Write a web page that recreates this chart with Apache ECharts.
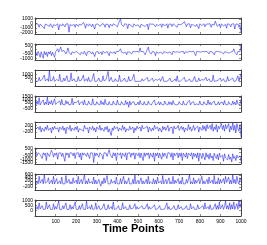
<!DOCTYPE html>
<html><head><meta charset="utf-8">
<script src="https://cdn.jsdelivr.net/npm/echarts@6/dist/echarts.min.js"></script>
<style>html,body{margin:0;padding:0;background:#fff}#c{width:267px;height:245px}</style>
</head><body><div id="c"></div>
<script>
const timeStep = 5;
const xTicks = [100,200,300,400,500,600,700,800,900,1000];
const s1 = [-100,-300,-150,-900,-200,-100,-600,-250,-1200,-150,-100,-400,-200,-700,-100,-150,-1000,-300,-100,-500,
-200,-100,-1500,-250,-150,-600,-100,-300,-800,-150,-200,-100,-2000,-300,-150,-500,-100,-250,-900,-150,
-100,-700,-200,-150,-400,-100,200,-300,-1100,-150,-200,-600,-100,-250,-800,-150,-100,-1300,-200,-400,
-150,-100,-700,-250,-100,-500,-200,-900,-150,-100,-300,-1000,-200,-150,-600,-100,-250,-400,-150,-800,
-100,-200,1100,-300,-150,-700,-100,-500,-200,-1200,-150,-100,-400,-250,-900,-100,-200,-600,-150,-300,
-100,-1000,-200,-150,-500,-100,-700,-250,-150,-1400,-100,-300,-200,-600,-150,-100,-800,-250,-100,-500,
-200,-150,-900,-100,-300,-600,-150,-100,-1100,-200,-400,-150,-700,-100,-250,-500,-150,-900,-200,-100,
-300,-600,-150,-100,400,-200,-800,-150,-500,-100,-1000,-250,-150,-400,-100,-700,-200,-150,-1200,-100,
-250,-500,-150,-100,-800,-200,-300,-150,-600,-100,-900,-200,-150,-400,500,-100,-700,-250,-150,-1000,
-100,-300,-600,-150,-200,-1100,-100,-400,-250,-800,-150,-500,-100,-1300,-200,-600,-150,-900,-300,-2000];
const s2 = [-300,-700,-200,-500,-900,-250,-400,-1000,-200,-600,-300,-800,-250,-500,-200,-700,-300,-400,-900,-250,
-200,100,-300,-250,300,-200,-400,-100,-300,-500,-250,200,-300,-200,-600,-250,-100,-400,-300,-200,
-250,-400,-200,-600,-300,-250,-500,-200,-300,-700,-250,-400,-200,-300,-500,-250,-200,-800,-300,-250,
-200,-500,-300,-250,-600,-200,-300,-400,-250,-200,-300,-700,-250,-200,-400,-300,-250,-500,-200,-300,
-250,-200,100,-300,-250,-400,-200,-300,-600,-250,-200,-300,-250,-500,-200,-300,-250,-400,-200,-250,
-300,200,-250,-400,-200,-300,-600,-250,-200,300,-300,-250,-500,-200,-250,-300,-700,-250,-200,-400,
-250,-300,-200,-500,-250,-200,-300,-250,-400,-200,-250,-300,-600,-200,-250,-300,-200,-250,-400,-300,
-200,-250,-300,-200,-500,-250,-200,-300,-250,-200,-400,-250,-300,-200,-250,-700,-200,-300,-250,-200,
-300,-250,-200,-400,-250,-300,-200,-250,-500,-200,-300,-250,-200,-600,-250,-300,-200,-400,-250,-200,
-300,-200,-500,-250,-200,-300,-250,-400,-200,-300,-250,-200,100,-300,-250,-600,-200,-300,-250,500];
const s3 = [50,200,50,600,100,50,300,50,900,100,50,400,50,1500,100,50,200,700,50,100,
300,50,100,1000,50,200,50,500,100,50,800,50,200,50,1200,100,50,400,50,300,
50,700,100,50,200,50,900,50,100,400,50,600,50,200,100,50,1100,50,300,50,
100,500,50,200,50,800,100,50,300,50,1400,50,100,600,50,200,50,400,100,50,
50,900,50,200,100,50,500,50,300,50,700,100,50,200,50,1000,50,300,50,100,
50,200,50,400,100,50,300,50,600,50,100,200,50,500,50,100,300,50,200,50,
400,50,100,700,50,200,50,300,100,50,500,50,200,50,100,400,50,800,50,200,
50,100,300,50,600,50,200,100,50,400,50,300,50,100,700,50,200,50,500,100,
50,300,50,200,50,600,100,50,400,50,200,50,900,50,300,100,50,200,50,500,
50,100,400,50,200,50,700,100,50,300,50,500,50,200,100,50,800,50,300,1100];
const s4 = [100,800,200,1400,100,500,300,1000,100,600,200,1500,100,700,300,900,100,400,1200,200,
100,600,300,800,100,1100,200,500,100,900,300,700,100,400,200,1300,100,600,300,500,
200,900,100,500,300,700,100,1000,200,400,100,800,300,600,100,1200,200,500,100,700,
300,400,100,900,200,600,100,1100,300,500,100,700,200,400,100,800,300,600,100,1000,
200,500,100,700,300,400,100,900,200,600,-300,800,100,500,300,700,100,400,200,600,
100,900,300,500,100,700,200,400,100,800,300,600,100,500,200,1000,100,400,300,700,
100,600,200,500,100,800,300,400,100,700,200,600,100,900,300,500,100,400,200,700,
300,500,100,800,200,400,100,600,300,900,100,500,200,700,100,400,300,600,100,800,
200,500,100,700,300,400,100,1000,200,600,100,500,300,800,100,400,200,700,100,500,
300,600,100,900,200,500,100,700,300,400,100,800,200,600,100,1000,300,500,100,1100];
const s5 = [0,-100,100,-50,150,-200,50,0,-150,100,-50,200,-100,0,50,-250,100,-50,150,0,
-100,50,-200,100,0,-50,150,-100,50,-300,100,0,-50,200,-150,50,0,-100,100,-50,
150,-200,0,100,-50,50,-150,200,0,-100,50,-250,100,0,-50,150,-100,50,-200,100,
0,-50,200,-100,50,0,-150,100,-50,150,-200,0,100,-400,50,-100,150,0,-50,100,
-150,50,0,-100,200,-50,100,-200,0,50,-100,150,-50,0,100,-250,50,-100,150,0,
-50,100,-150,200,0,-100,50,-50,150,-200,100,0,-150,50,-100,200,0,-50,100,-150,
50,0,-200,150,-50,100,-100,0,200,-150,50,-50,100,-300,150,0,-100,50,200,-100,
0,150,-50,100,-200,50,0,-100,250,-50,100,-150,0,200,-100,50,-50,150,-200,100,
0,-100,200,-50,150,-150,250,0,-100,200,-50,300,-150,100,-50,250,-200,150,0,-100,
300,-50,200,-150,250,0,-100,300,-200,150,-50,350,-100,200,-250,300,0,-150,250,-500];
const s6 = [-100,-500,-50,200,-300,-100,-900,-50,-400,-100,-1200,-50,-200,-600,-100,300,-50,-700,-100,-400,
-50,-1000,-100,-300,-50,-600,-100,-200,-1300,-50,-400,-100,-800,-50,-200,-100,-500,-50,-900,-100,
-300,-50,-700,-100,-1100,-50,-400,-100,-200,-600,-50,-100,-900,-50,-300,-100,-1500,-50,-500,-100,
-200,-700,-50,-100,-400,-1000,-50,-200,-100,-600,-50,400,-300,-100,-800,-50,-500,-100,-1200,-50,
-100,-400,-50,-900,-100,-200,-600,-50,-1100,-100,-300,-50,-700,-100,-400,-50,-1000,-100,-200,-500,
-50,-800,-100,-300,-1200,-50,-600,-100,-400,-50,-900,-100,-200,-700,-50,-1300,-100,-500,-50,-800,
-100,-300,-1000,-50,-600,-100,-400,-900,-50,-200,-100,-700,-50,-1100,-100,-500,-300,-50,-800,-100,
-600,-50,-1200,-100,-400,-700,-50,-900,-100,-300,-500,-50,-1000,-100,-600,-200,-800,-50,-1300,-100,
-400,-900,-100,-600,-1100,-50,-700,-300,-1000,-100,-800,-500,-1200,-100,-600,-900,-300,-1100,-100,-700,
-900,-400,-1300,-200,-800,-600,-1100,-300,-1000,-700,-1400,-200,-900,-600,-1200,-400,-800,-1000,-500,-1300];
const s7 = [0,200,0,500,50,0,300,0,600,50,0,150,400,0,50,250,0,500,0,100,
350,0,50,200,0,450,0,100,0,550,50,0,300,0,150,0,400,50,0,250,
0,500,0,100,300,0,50,600,0,200,0,350,50,0,150,0,450,0,250,0,
50,300,0,-150,200,0,400,50,0,550,0,100,0,300,50,0,200,0,450,0,
100,0,350,0,50,500,0,200,0,150,400,0,50,0,300,0,600,0,100,250,
0,50,400,0,200,0,-100,300,0,500,0,150,50,0,350,0,250,0,450,50,
0,200,0,550,0,100,300,0,50,400,0,150,0,500,0,250,50,0,350,0,
200,0,450,0,100,0,300,50,0,600,0,150,0,400,0,250,50,0,350,0,
0,500,0,200,0,-100,300,0,450,50,0,250,0,550,0,150,0,400,0,300,
50,0,350,0,500,100,0,450,0,250,0,600,50,300,0,500,150,0,400,200];
const s8 = [100,400,100,800,150,100,500,100,300,100,900,150,100,600,100,250,100,700,100,400,
150,100,1000,100,300,100,500,150,100,800,100,200,100,600,100,400,150,100,900,100,
300,100,500,100,150,700,100,300,100,1000,150,100,400,100,600,100,200,150,800,100,
100,500,100,300,150,100,700,100,200,100,600,150,100,400,100,900,100,300,150,100,
500,100,200,100,800,150,100,400,100,300,100,600,150,100,200,100,700,100,400,150,
100,300,100,500,150,100,200,100,700,100,400,150,100,300,100,600,100,200,150,100,
500,100,300,100,200,150,100,800,100,400,100,300,150,100,500,100,200,100,600,150,
100,400,100,200,150,100,500,100,300,100,700,150,100,400,100,200,100,600,150,100,
300,100,500,100,800,150,100,400,100,600,100,300,150,100,700,100,500,100,900,150,
100,600,100,400,1000,150,500,100,800,100,600,150,900,100,400,700,100,1000,300,800];
const yTicks = [
 [-2000,-1000,0,1000],
 [-1000,-500,0,500],
 [0,500,1000],
 [-500,0,500,1000,1500],
 [-200,0,200],
 [-1500,-1000,-500,0,500],
 [-200,0,200,400,600],
 [0,500,1000]
];
const yRanges = [[-2400,1200],[-1200,650],[-580,1580],[-1150,1700],[-550,400],[-1700,650],[-400,650],[-600,1100]];
const allSeries = [s1,s2,s3,s4,s5,s6,s7,s8];

const chart = echarts.init(document.getElementById('c'), null, {renderer:'canvas'});
const frame = '#444';
const fmt = v => String(v);
const labelFont = {fontSize:5, color:'#000', fontFamily:'Liberation Sans, Arial'};
const grids=[], xAxes=[], yAxes=[], series=[];
allSeries.forEach((s,i)=>{
  const box = {left:35, width:206, top:18+26*i, height:16};
  const gMain = grids.length; grids.push(Object.assign({}, box));
  const gOver = grids.length; grids.push(Object.assign({}, box));
  const last = i===allSeries.length-1;
  const common = {type:'value', min:0, max:1000, gridIndex:gMain,
    axisLine:{show:true, onZero:false, lineStyle:{color:frame,width:1}},
    axisTick:{show:true, inside:true, length:2, customValues:xTicks, lineStyle:{color:frame,width:0.6}},
    splitLine:{show:false}};
  const xMain = xAxes.length;
  xAxes.push(Object.assign({}, common, {position:'bottom',
    axisLabel:Object.assign({show:last, customValues:xTicks, formatter:fmt, hideOverlap:false, showMinLabel:true, showMaxLabel:true, margin:3}, labelFont)}));
  xAxes.push(Object.assign({}, common, {position:'top', axisLabel:{show:false}}));
  xAxes.push({type:'value', min:0, max:1000, gridIndex:gOver, show:false});
  const yc = {type:'value', min:yRanges[i][0], max:yRanges[i][1],
    axisLine:{show:true, onZero:false, lineStyle:{color:frame,width:1}},
    axisTick:{show:true, inside:true, length:2, customValues:yTicks[i], lineStyle:{color:frame,width:0.6}},
    splitLine:{show:false}};
  const evenT = yTicks[i].filter((v,k)=>k%2===0);
  const oddT = yTicks[i].filter((v,k)=>k%2===1);
  const yMain = yAxes.length;
  yAxes.push(Object.assign({}, yc, {gridIndex:gMain, position:'left',
    axisLabel:Object.assign({show:true, customValues:evenT, formatter:fmt, hideOverlap:false, showMinLabel:true, showMaxLabel:true, margin:2}, labelFont)}));
  yAxes.push(Object.assign({}, yc, {gridIndex:gMain, position:'right', axisLabel:{show:false}}));
  yAxes.push(Object.assign({}, yc, {gridIndex:gOver, position:'left', axisLine:{show:false}, axisTick:{show:false},
    axisLabel:Object.assign({show:oddT.length>0, customValues:oddT, formatter:fmt, hideOverlap:false, showMinLabel:true, showMaxLabel:true, margin:2}, labelFont)}));
  series.push({type:'line', xAxisIndex:xMain, yAxisIndex:yMain, showSymbol:false, symbol:'none',
    lineStyle:{color:'#0000ff', width:0.5}, data:s.map((v,k)=>[(k+1)*timeStep, v])});
});
chart.setOption({
  animation:false,
  grid:grids, xAxis:xAxes, yAxis:yAxes, series:series,
  graphic:[{type:'text', left:'center', top:223, style:{text:'Time Points', font:'bold 11px Liberation Sans, Arial', fill:'#000'}}]
});
</script></body></html>
